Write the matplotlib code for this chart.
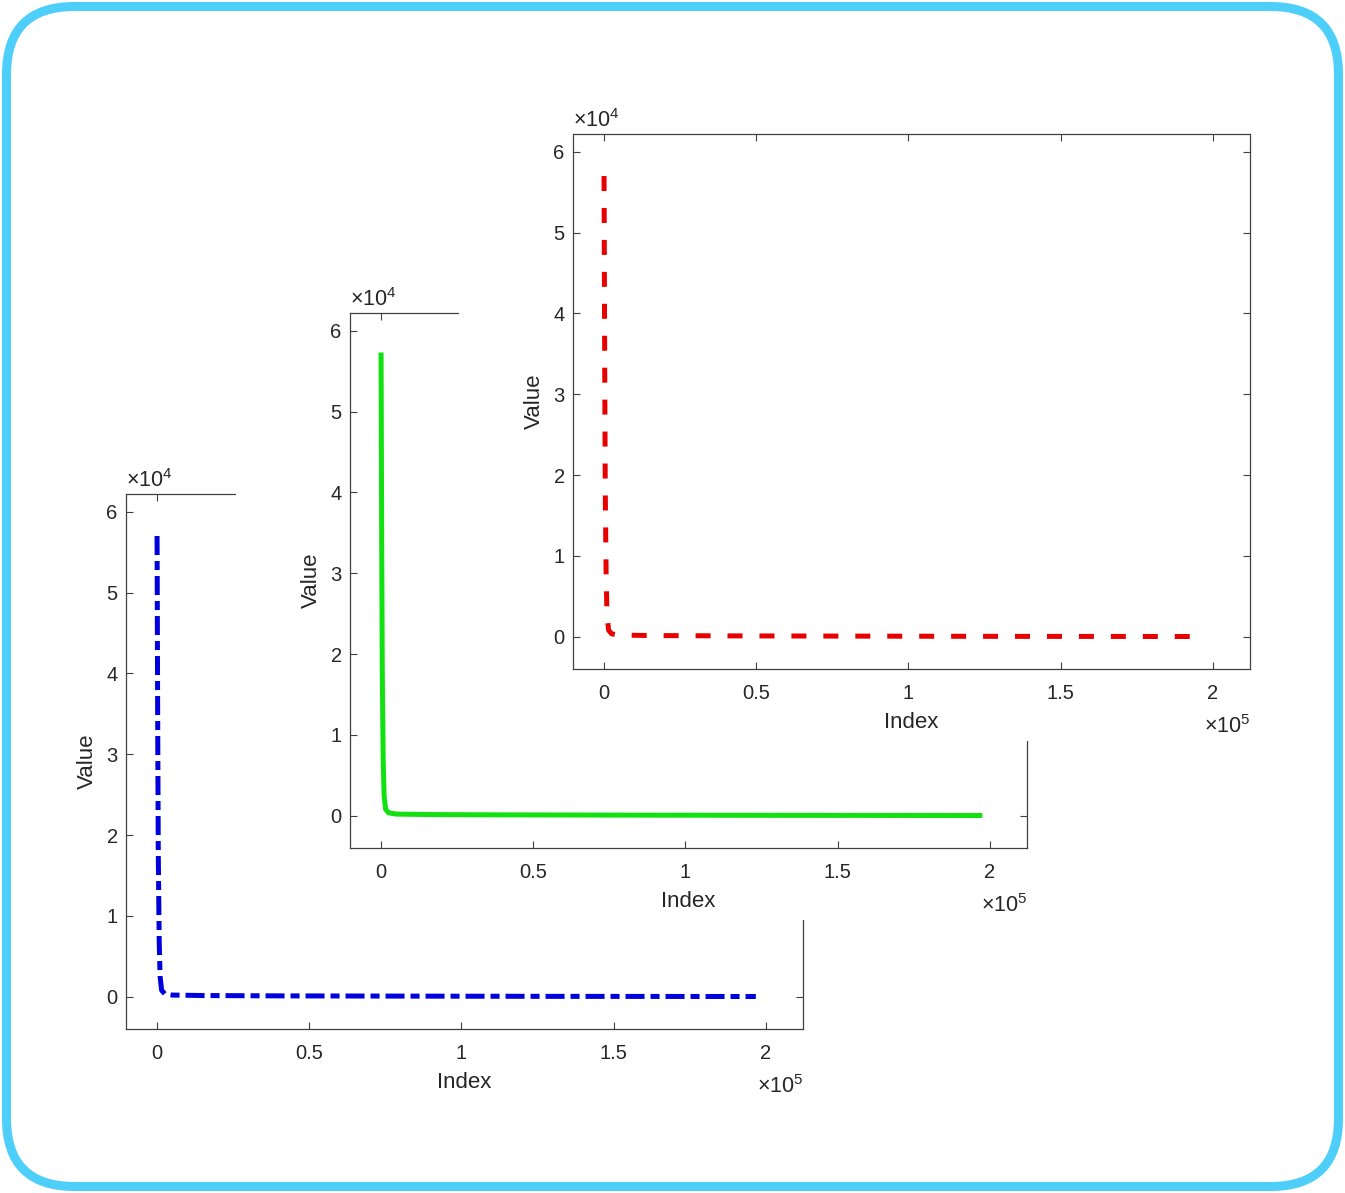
import matplotlib
matplotlib.use('Agg')
import matplotlib.pyplot as plt
from matplotlib.patches import Rectangle, FancyBboxPatch
from matplotlib.transforms import IdentityTransform
from matplotlib.ticker import FuncFormatter

plt.rcParams['font.family'] = ['Liberation Sans', 'DejaVu Sans']
plt.rcParams['mathtext.fontset'] = 'custom'
plt.rcParams['mathtext.rm'] = 'Liberation Sans'
plt.rcParams['lines.scale_dashes'] = False

# sorted values
rank = [1, 50, 200, 400, 700, 1000, 1500, 2500, 5000, 15000, 40000, 80000, 130000, 196700]
count = [57000, 52000, 35000, 18000, 7000, 2500, 800, 350, 200, 140, 100, 70, 40, 20]

xticks = [0, 50000, 100000, 150000, 200000]
yticks = [0, 10000, 20000, 30000, 40000, 50000, 60000]

W, H = 1345, 1193
fig = plt.figure(figsize=(W / 100, H / 100), dpi=100)

# figure border
fig.add_artist(FancyBboxPatch((6.5, 6.5), W - 13, H - 13,
                              boxstyle='round,pad=0,rounding_size=68',
                              transform=IdentityTransform(),
                              fc='none', ec='#4dcffa', lw=6.5, zorder=10))

# panels: (axes left, axes top) in pixels, color, dashes, drawn back to front
panels = [
    (126, 494, '#0000dd', (13.7, 4.3, 6.5, 4.3)),
    (350, 313, '#11e011', None),
    (573, 134, '#e80000', (10.8, 12.2)),
]
AW, AH = 677, 535
axcol = '#404040'
txtcol = '#262626'

for i, (left, top, col, dash) in enumerate(panels):
    # white background of the pasted panel
    bl, bt = left - 114, top - 45
    br, bb = left + AW + 25, top + AH + 72
    fig.add_artist(Rectangle((bl / W, 1 - bb / H), (br - bl) / W, (bb - bt) / H,
                             transform=fig.transFigure, fc='white', ec='none',
                             zorder=2 * i + 1))

    ax = fig.add_axes([left / W, 1 - (top + AH) / H, AW / W, AH / H])
    ax.set_zorder(2 * i + 2)
    if dash is None:
        ax.plot(rank, count, color=col, lw=3.6, solid_joinstyle='round')
    else:
        ax.plot(rank, count, color=col, lw=3.6, dashes=dash)
    ax.set_xlim(-10200, 212200)
    ax.set_ylim(-4000, 62200)
    ax.set_xticks(xticks)
    ax.set_yticks(yticks)
    ax.xaxis.set_major_formatter(FuncFormatter(lambda v, p: '%g' % (v / 1e5)))
    ax.yaxis.set_major_formatter(FuncFormatter(lambda v, p: '%g' % (v / 1e4)))
    ax.tick_params(direction='in', length=5, width=0.8, color=axcol,
                   top=True, right=True, labelsize=14.5, labelcolor=txtcol)
    ax.tick_params(axis='x', pad=11)
    ax.tick_params(axis='y', pad=6)
    for s in ax.spines.values():
        s.set_color(axcol)
        s.set_linewidth(0.9)
    ax.set_xlabel('Index', fontsize=16, color=txtcol, labelpad=6)
    ax.set_ylabel('Value', fontsize=16, color=txtcol, labelpad=6)
    ax.text(0, 1.004, '×10$^{4}$', transform=ax.transAxes, fontsize=15.5,
            color=txtcol, ha='left', va='bottom')
    ax.text(1, -0.086, '×10$^{5}$', transform=ax.transAxes, fontsize=15.5,
            color=txtcol, ha='right', va='top')

fig.savefig('out.png', dpi=100)
